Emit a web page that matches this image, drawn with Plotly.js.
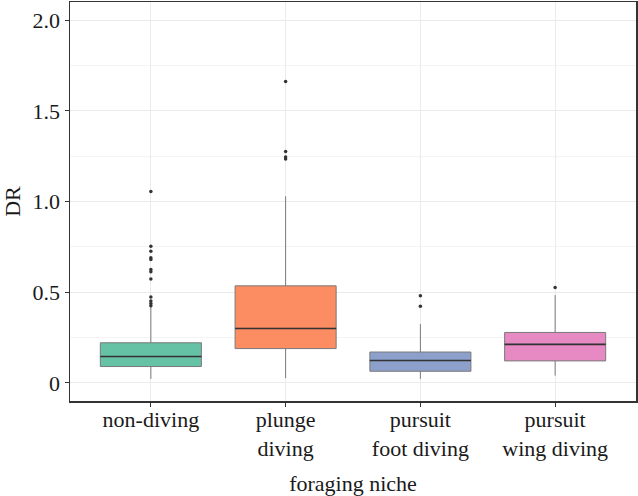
<!DOCTYPE html>
<html>
<head>
<meta charset="utf-8">
<script src="https://cdn.plot.ly/plotly-3.0.1.min.js"></script>
<style>html,body{margin:0;padding:0;background:#fff}#chart{width:638px;height:496px}</style>
</head>
<body>
<div id="chart"></div>
<script>
const categories = ["non-diving", "plunge diving", "pursuit foot diving", "pursuit wing diving"];
const tickLabels = ["non-diving", "plunge<br>diving", "pursuit<br>foot diving", "pursuit<br>wing diving"];
const colors = ["#66C2A5", "#FC8D62", "#8DA0CB", "#E78AC3"];
const q1 = [0.090, 0.189, 0.064, 0.121];
const median = [0.145, 0.300, 0.123, 0.212];
const q3 = [0.221, 0.535, 0.170, 0.278];
const lowerWhisker = [0.022, 0.026, 0.022, 0.040];
const upperWhisker = [0.419, 1.029, 0.324, 0.484];
const outliers = [
  [1.055, 0.753, 0.725, 0.690, 0.680, 0.625, 0.612, 0.573, 0.474, 0.452, 0.438, 0.425],
  [1.661, 1.276, 1.245, 1.234],
  [0.480, 0.423],
  [0.526]
];
const yTicks = [0, 0.5, 1.0, 1.5, 2.0];
const yTickText = ["0", "0.5", "1.0", "1.5", "2.0"];

const boxW = 0.75;
const traces = [];
categories.forEach((c, i) => {
  traces.push({
    type: "box",
    name: c,
    x: [i],
    q1: [q1[i]], median: [median[i]], q3: [q3[i]],
    lowerfence: [lowerWhisker[i]], upperfence: [upperWhisker[i]],
    width: boxW,
    whiskerwidth: 0,
    fillcolor: colors[i],
    line: {color: "#7a7a7a", width: 1},
    boxpoints: false,
    hoverinfo: "skip",
    showlegend: false
  });
  traces.push({
    type: "scatter", mode: "lines",
    x: [i - boxW / 2, i + boxW / 2],
    y: [median[i], median[i]],
    line: {color: "#333333", width: 1.6},
    hoverinfo: "skip", showlegend: false
  });
  traces.push({
    type: "scatter", mode: "markers",
    x: outliers[i].map(() => i),
    y: outliers[i],
    marker: {color: "#333333", size: 3.5},
    hoverinfo: "skip", showlegend: false
  });
});

const font = {family: "Liberation Serif, Times New Roman, serif", size: 22, color: "#1a1a1a"};
const layout = {
  width: 638, height: 496,
  margin: {l: 70, r: 2, t: 2, b: 95},
  paper_bgcolor: "#ffffff", plot_bgcolor: "#ffffff",
  font: font,
  showlegend: false,
  xaxis: {
    range: [-0.6, 3.6],
    tickvals: [0, 1, 2, 3], ticktext: tickLabels,
    showgrid: true, gridcolor: "#ebebeb", gridwidth: 1,
    zeroline: false,
    showline: true, mirror: true, linecolor: "#333333", linewidth: 1.5,
    ticks: "outside", ticklen: 4, tickcolor: "#333333", tickwidth: 1,
    ticklabelstandoff: -6,
    tickfont: font,
    title: {text: "foraging niche", font: font, standoff: 16},
    automargin: false
  },
  yaxis: {
    range: [-0.1, 2.1],
    tickvals: yTicks, ticktext: yTickText,
    showgrid: true, gridcolor: "#ebebeb", gridwidth: 1,
    minor: {showgrid: true, gridcolor: "#f4f4f4", gridwidth: 1, tickvals: [0.25, 0.75, 1.25, 1.75], ticks: ""},
    zeroline: false,
    showline: true, mirror: true, linecolor: "#333333", linewidth: 1.5,
    ticks: "outside", ticklen: 4, tickcolor: "#333333", tickwidth: 1,
    tickfont: font,
    title: {text: "DR", font: font, standoff: 6},
    automargin: false
  }
};
Plotly.newPlot("chart", traces, layout, {displayModeBar: false, staticPlot: true});
</script>
</body>
</html>
